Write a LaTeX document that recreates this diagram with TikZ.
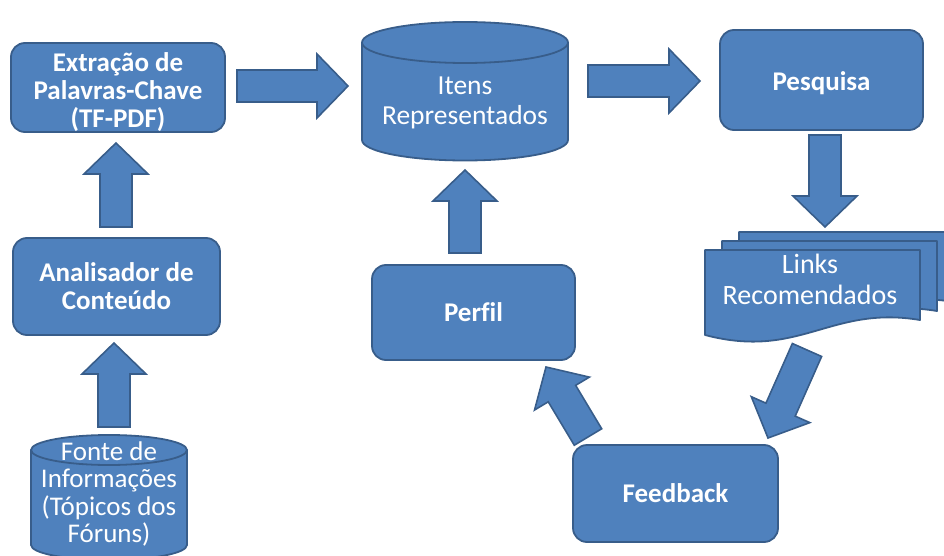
\documentclass[tikz,border=0pt]{standalone}
\usepackage{fontspec}
\setmainfont{Carlito}[Ligatures=NoCommon]
\usetikzlibrary{calc}

\definecolor{boxfill}{HTML}{4F81BD}
\definecolor{boxline}{HTML}{385D8A}

\tikzset{
  box/.style={draw=boxline, fill=boxfill, line width=1.8pt, rounded corners=14pt,
    text=white, align=center, inner sep=0pt,
    font=\bfseries\fontsize{27}{28}\selectfont},
  boxtext/.style={text=white, align=center, inner sep=0pt,
    font=\bfseries\fontsize{27}{28}\selectfont},
  cyltext/.style={text=white, align=center, inner sep=0pt,
    font=\fontsize{27.5}{30}\selectfont},
  shapeline/.style={draw=boxline, fill=boxfill, line width=1.8pt, line join=round},
  flowarrow/.style={draw=boxline, fill=boxfill, line width=1.6pt, line join=miter},
}

% block arrow from #1 (tail centre) to #2 (tip)
\newcommand\blockarrow[2]{%
  \coordinate (bah) at ($(#2)!31pt!(#1)$);
  \path[flowarrow] ($(#1)!16pt!90:(#2)$) -- ($(bah)!16pt!90:(#2)$)
    -- ($(bah)!32pt!90:(#2)$) -- (#2) -- ($(bah)!32pt!-90:(#2)$)
    -- ($(bah)!16pt!-90:(#2)$) -- ($(#1)!16pt!-90:(#2)$) -- cycle;
}

% cylinder: centre x, x radius, top y, bottom y, end radius
\newcommand\drum[5]{%
  \path[shapeline] (#1-#2,#3) -- (#1-#2,#4)
    arc[start angle=180, end angle=360, x radius=#2pt, y radius=#5pt]
    -- (#1+#2,#3)
    arc[start angle=0, end angle=180, x radius=#2pt, y radius=#5pt] -- cycle;
  \draw[boxline, line width=1.8pt] (#1-#2,#3)
    arc[start angle=180, end angle=360, x radius=#2pt, y radius=#5pt];
}

% one sheet of the document stack
\newcommand\sheet{%
  \path[shapeline] (705,250) -- (920,250) -- (920,320)
    .. controls (830,305) and (800,360) .. (705,335) -- cycle;
}

\begin{document}
\begin{tikzpicture}[x=1pt, y=-1pt]
  \useasboundingbox (0,0) rectangle (944,556);
  \clip (0,0) rectangle (944,556);

  % process boxes
  \node[box, minimum width=214pt, minimum height=89pt] (ext) at (118,87.5) {};
  \node[boxtext] (exttext) at ([yshift=-5pt]ext.center)
    {Extração de\\Palavras-Chave\\(TF-PDF)};
  \node[box, minimum width=207pt, minimum height=97pt] (anal) at (116.5,286.5)
    {Analisador de\\Conteúdo};
  \node[box, minimum width=203pt, minimum height=100pt] (pesq) at (821.5,80) {};
  \node[boxtext] (pesqtext) at ([yshift=-3pt]pesq.center) {Pesquisa};
  \node[box, minimum width=203pt, minimum height=95pt] (perfil) at (473.5,312.5)
    {Perfil};
  \node[box, minimum width=205pt, minimum height=97pt] (feed) at (675.5,493.5)
    {Feedback};

  % data stores
  \drum{465}{103}{42.5}{140}{20.5}
  \node[cyltext] (itens) at (465,103) {Itens\\Representados};
  \drum{109}{78}{450}{545}{15}
  \node[cyltext, font=\fontsize{27}{27.5}\selectfont] (fonte) at (109,494)
    {Fonte de\\Informações\\(Tópicos dos\\Fóruns)};

  % stacked documents
  \begin{scope}[shift={(34,-18)}]\sheet\end{scope}
  \begin{scope}[shift={(17,-9)}]\sheet\end{scope}
  \sheet
  \node[cyltext, font=\fontsize{28}{31}\selectfont] (links) at (810,279)
    {Links\\Recomendados};

  % arrow ends
  \coordinate (a1s) at (237,86);   \coordinate (a1e) at (348,86);
  \coordinate (a2s) at (588,81);   \coordinate (a2e) at (700,81);
  \coordinate (a3s) at (825,135);  \coordinate (a3e) at (825,227);
  \coordinate (a4s) at (807,350);  \coordinate (a4e) at (768,438);
  \coordinate (a5s) at (588,437);  \coordinate (a5e) at (546,367);
  \coordinate (a6s) at (465,253);  \coordinate (a6e) at (465,170);
  \coordinate (a7s) at (116,227);  \coordinate (a7e) at (116,143);
  \coordinate (a8s) at (114,427);  \coordinate (a8e) at (114,343);

  \blockarrow{a1s}{a1e}
  \blockarrow{a2s}{a2e}
  \blockarrow{a3s}{a3e}
  \blockarrow{a4s}{a4e}
  \blockarrow{a5s}{a5e}
  \blockarrow{a6s}{a6e}
  \blockarrow{a7s}{a7e}
  \blockarrow{a8s}{a8e}
\end{tikzpicture}
\end{document}
